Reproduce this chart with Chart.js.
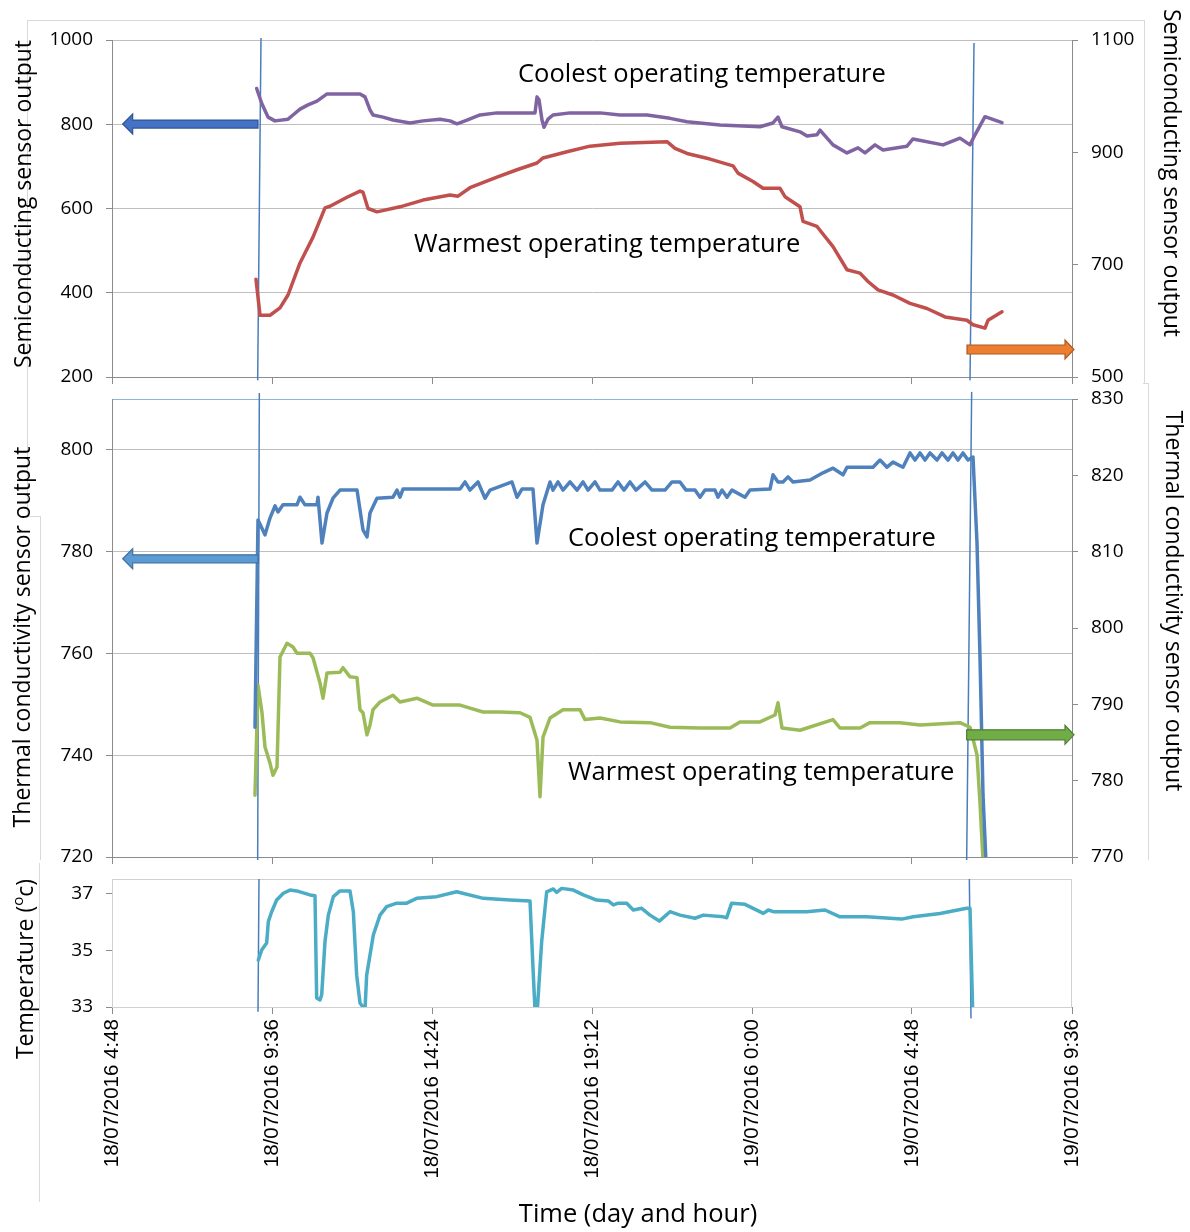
<!DOCTYPE html>
<html>
<head>
<meta charset="utf-8">
<script src="https://cdn.jsdelivr.net/npm/chart.js@4.4.1/dist/chart.umd.min.js"></script>
<style>
  html, body { margin: 0; padding: 0; background: #fff; }
  #wrap { position: relative; width: 1190px; height: 1232px; overflow: hidden; }
  canvas { position: absolute; left: 0; }
  .frame { position: absolute; border: 0 solid #d9d9d9; }
</style>
</head>
<body>
<div id="wrap">
  <div class="frame" style="left:27px;top:20px;width:1116px;height:363px;border-width:1px 1px 0 1px"></div>
  <div class="frame" style="left:27px;top:383px;height:133px;border-left-width:1px"></div>
  <div class="frame" style="left:27px;top:516px;width:13px;border-top-width:1px"></div>
  <div class="frame" style="left:40px;top:516px;height:344px;border-left-width:1px"></div>
  <div class="frame" style="left:1143px;top:383px;width:5px;border-top-width:1px"></div>
  <div class="frame" style="left:1148px;top:383px;height:477px;border-left-width:1px"></div>
  <div class="frame" style="left:39px;top:863px;height:339px;border-left-width:1px"></div>
  <canvas id="c1" width="1190" height="392" style="top:0"></canvas>
  <canvas id="c2" width="1190" height="490" style="top:380px"></canvas>
  <canvas id="c3" width="1190" height="362" style="top:870px"></canvas>
</div>
<script>
// time = hours since 18/07/2016 0:00
const xTicks = [4.8, 9.6, 14.4, 19.2, 24, 28.8, 33.6];

// semiconducting sensor, coolest (left axis) and warmest (right axis)
const semiCool = [[9.14,885],[9.29,850],[9.48,817],[9.69,808],[10.08,812],[10.23,822],[10.44,836],[10.68,846],[10.95,855],[11.25,872],[11.55,872],[12.24,872],[12.39,865],[12.54,834],[12.63,822],[12.93,817],[13.23,810],[13.74,803],[14.13,808],[14.64,812],[14.94,808],[15.15,801],[15.45,810],[15.84,822],[16.35,827],[16.95,827],[17.49,827],[17.55,865],[17.61,858],[17.7,810],[17.76,793],[17.88,812],[18.03,822],[18.54,827],[19.44,827],[20.04,822],[20.85,822],[21.54,814],[22.05,806],[23.04,798],[24.24,794],[24.63,803],[24.78,817],[24.9,794],[25.44,782],[25.65,772],[25.95,775],[26.04,786],[26.43,751],[26.85,732],[27.18,744],[27.39,732],[27.69,751],[27.93,739],[28.65,748],[28.83,765],[29.73,751],[30.24,767],[30.54,751],[30.69,775],[30.99,818],[31.5,804]];
const semiWarm = [[9.12,674],[9.24,610],[9.54,610],[9.84,623],[10.08,646],[10.44,703],[10.83,749],[11.19,801],[11.34,804],[11.85,820],[12.24,831],[12.33,829],[12.48,800],[12.75,794],[13.44,803],[14.13,815],[14.94,824],[15.18,822],[15.54,837],[16.35,856],[16.95,869],[17.55,881],[17.73,890],[18.45,901],[19.14,911],[20.04,916],[21.45,919],[21.69,907],[22.05,898],[22.74,888],[23.43,876],[23.58,863],[24.03,848],[24.33,836],[24.84,836],[24.99,821],[25.44,803],[25.53,777],[25.95,768],[26.43,732],[26.85,691],[27.24,685],[27.48,670],[27.78,655],[28.23,646],[28.74,631],[29.25,622],[29.79,607],[30.45,601],[30.63,593],[30.99,587],[31.08,601],[31.5,616]];

// thermal conductivity sensor, coolest (left axis) and warmest (right axis)
const thermCool = [[9.09,745.5],[9.18,786.2],[9.39,783.3],[9.54,786.6],[9.69,789.0],[9.78,787.8],[9.93,789.2],[10.35,789.2],[10.44,790.7],[10.59,789.2],[10.95,789.2],[10.98,790.7],[11.10,781.7],[11.25,787.6],[11.43,790.5],[11.64,792.1],[12.15,792.1],[12.33,784.3],[12.45,782.9],[12.54,787.6],[12.75,790.5],[13.23,790.7],[13.35,792.1],[13.44,790.7],[13.53,792.3],[15.24,792.3],[15.39,793.7],[15.54,792.1],[15.78,793.7],[15.99,790.5],[16.14,792.1],[16.8,793.7],[16.95,790.7],[17.1,792.3],[17.43,792.3],[17.55,781.7],[17.73,789.2],[17.94,793.7],[18.03,792.1],[18.18,793.7],[18.33,792.1],[18.54,793.7],[18.75,792.1],[18.93,793.7],[19.08,792.1],[19.29,793.7],[19.44,792.1],[19.8,792.1],[19.98,793.7],[20.16,792.1],[20.34,793.7],[20.52,792.1],[20.79,793.7],[21.0,792.1],[21.39,792.1],[21.6,793.7],[21.84,793.7],[22.02,792.1],[22.29,792.1],[22.44,790.7],[22.59,792.1],[22.89,792.1],[22.98,790.7],[23.1,792.1],[23.25,790.7],[23.4,792.1],[23.79,790.7],[23.94,792.1],[24.54,792.3],[24.63,795.1],[24.78,793.7],[24.93,793.7],[25.08,794.7],[25.23,793.7],[25.74,794.1],[26.13,795.5],[26.43,796.4],[26.73,795.1],[26.85,796.6],[27.63,796.6],[27.84,798.0],[28.05,796.6],[28.23,797.6],[28.53,796.6],[28.74,799.4],[28.89,798.0],[29.04,799.4],[29.19,798.0],[29.34,799.4],[29.55,798.0],[29.7,799.4],[29.88,798.0],[30.03,799.4],[30.18,798.0],[30.33,799.4],[30.48,798.0],[30.63,798.6],[30.75,781.7],[30.84,759.3],[30.93,732.2],[31.02,719]];
const thermWarm = [[9.09,778.1],[9.18,792.5],[9.30,788.9],[9.39,784.4],[9.54,782.3],[9.63,780.7],[9.75,781.8],[9.84,796.2],[10.05,798.0],[10.23,797.5],[10.35,796.7],[10.74,796.7],[10.83,796.1],[11.04,792.8],[11.13,790.8],[11.25,794.1],[11.64,794.2],[11.73,794.8],[11.94,793.6],[12.15,793.5],[12.24,789.3],[12.33,788.9],[12.45,786.0],[12.54,787.3],[12.63,789.3],[12.84,790.3],[13.23,791.2],[13.44,790.3],[13.95,790.8],[14.43,789.9],[15.24,789.9],[15.54,789.5],[15.93,789.0],[16.44,789.0],[17.04,788.9],[17.34,788.3],[17.55,785.3],[17.64,777.9],[17.73,785.7],[17.94,788.2],[18.33,789.3],[18.84,789.3],[18.99,788.0],[19.44,788.2],[20.04,787.7],[20.94,787.6],[21.54,787.0],[22.44,786.9],[23.34,786.9],[23.64,787.7],[24.24,787.7],[24.69,788.6],[24.78,790.2],[24.90,786.9],[25.44,786.6],[26.43,788.0],[26.64,786.9],[27.24,786.9],[27.54,787.6],[28.44,787.6],[29.04,787.3],[30.24,787.6],[30.54,787.0],[30.75,783.4],[30.84,777.1],[30.93,769.6]];

// temperature (°C)
const bodyTemp = [[9.19,34.65],[9.29,35.0],[9.44,35.25],[9.49,36.0],[9.59,36.35],[9.74,36.76],[9.94,37.0],[10.14,37.11],[10.34,37.08],[10.74,36.94],[10.89,36.91],[10.94,33.32],[11.04,33.25],[11.09,33.42],[11.19,35.3],[11.29,36.23],[11.44,36.88],[11.64,37.08],[11.94,37.08],[12.04,36.35],[12.14,34.12],[12.24,33.14],[12.39,32.9],[12.44,34.12],[12.64,35.53],[12.84,36.23],[13.04,36.53],[13.34,36.65],[13.64,36.65],[13.94,36.82],[14.54,36.88],[15.14,37.05],[15.94,36.82],[16.74,36.76],[17.34,36.73],[17.44,34.12],[17.49,32.9],[17.56,32.9],[17.69,35.3],[17.84,37.05],[18.04,37.15],[18.14,37.03],[18.29,37.17],[18.64,37.11],[18.94,36.94],[19.34,36.76],[19.69,36.73],[19.84,36.59],[19.99,36.65],[20.24,36.65],[20.44,36.41],[20.69,36.47],[20.94,36.23],[21.22,36.02],[21.54,36.35],[21.84,36.23],[22.29,36.12],[22.54,36.23],[23.14,36.17],[23.24,36.14],[23.39,36.65],[23.79,36.61],[24.34,36.29],[24.49,36.41],[24.64,36.35],[25.64,36.35],[26.19,36.41],[26.64,36.17],[27.44,36.17],[28.49,36.09],[28.84,36.17],[29.64,36.29],[30.44,36.47],[30.54,36.47],[30.62,32.9]];

// start / end marker lines, [time, value] at top and bottom
const semiMarks = [[[9.27,1004.7],[9.17,192]], [[30.66,993],[30.54,192]]];
const thermMarks = [[[9.22,811.2],[9.17,719.4]], [[30.59,811.4],[30.44,719.4]]];
const tempMarks = [[[9.21,37.5],[9.18,32.83]], [[30.52,37.5],[30.57,32.6]]];

// arrows: [tail time, tip time, value]
const semiArrowL = [9.18, 5.12, 800.5];
const semiArrowR = [30.45, 33.66, 549];
const thermArrowL = [9.18, 5.12, 778.6];
const thermArrowR = [30.44, 33.66, 786];

// in-plot labels: [time, value at baseline]
const semiCoolLabel = [16.98, 900.3];
const semiWarmLabel = [13.86, 496.7];
const thermCoolLabel = [18.48, 781.1];
const thermWarmLabel = [18.48, 735.1];

const gridGray = '#bfbfbf';
const axisGray = '#8c8c8c';
const markBlue = '#4a7ebb';
const txtFont = '"Open Sans", sans-serif';

function fmtTime(h) {
  const m = Math.round(h * 60);
  const day = 18 + Math.floor(m / 1440);
  const r = m % 1440;
  return day + '/07/2016 ' + Math.floor(r / 60) + ':' + String(r % 60).padStart(2, '0');
}

function toXY(arr) {
  return arr.map(p => ({ x: p[0], y: p[1] }));
}

function series(label, arr, color, axis) {
  return {
    label, data: toXY(arr), yAxisID: axis, borderColor: color, backgroundColor: color,
    borderWidth: 3.5, pointRadius: 0, tension: 0, borderJoinStyle: 'round', borderCapStyle: 'round'
  };
}

function markLines(marks, axis) {
  return marks.map(m => ({
    label: 'marker', data: toXY(m), yAxisID: axis, borderColor: markBlue,
    borderWidth: 1.5, pointRadius: 0, clip: false
  }));
}

function xScale(showLabels, height) {
  return {
    type: 'linear', min: 4.8, max: 33.6,
    afterBuildTicks: s => { s.ticks = xTicks.map(v => ({ value: v })); },
    afterFit: s => { s.height = height; },
    grid: { drawOnChartArea: false, color: axisGray, tickLength: 7 },
    border: { color: axisGray },
    ticks: {
      display: showLabels, autoSkip: false, maxRotation: 90, minRotation: 90, padding: 5,
      color: '#000', font: { family: '"Liberation Sans", Arial, sans-serif', size: 20.5 },
      callback: v => fmtTime(v)
    }
  };
}

function yScale(pos, min, max, ticks, width, opts) {
  opts = opts || {};
  return {
    type: 'linear', position: pos, min, max,
    afterBuildTicks: sc => { sc.ticks = ticks.map(v => ({ value: v })); },
    // fixed axis width, and no extra room for the end labels
    afterFit: sc => { sc.width = width; sc.paddingTop = 0; sc.paddingBottom = 0; },
    grid: opts.grid || { drawOnChartArea: pos === 'left', color: gridGray, tickColor: axisGray, tickLength: 6 },
    border: { color: axisGray },
    ticks: {
      padding: 13, color: '#000', font: { family: txtFont, size: 19 },
      callback: opts.label || (v => String(v))
    }
  };
}

// draws arrows, in-plot labels and axis titles
function notes(cfg) {
  return {
    id: 'notes',
    afterDatasetsDraw(chart) {
      const ctx = chart.ctx, xs = chart.scales.x;
      ctx.save();
      (cfg.arrows || []).forEach(a => {
        const y = chart.scales[a.axis].getPixelForValue(a.at[2]);
        const x0 = xs.getPixelForValue(a.at[0]), x1 = xs.getPixelForValue(a.at[1]);
        const d = Math.sign(x1 - x0), hb = x1 - d * a.head;
        ctx.beginPath();
        ctx.moveTo(x0, y - a.shaft);
        ctx.lineTo(hb, y - a.shaft);
        ctx.lineTo(hb, y - a.wing);
        ctx.lineTo(x1, y);
        ctx.lineTo(hb, y + a.wing);
        ctx.lineTo(hb, y + a.shaft);
        ctx.lineTo(x0, y + a.shaft);
        ctx.closePath();
        ctx.fillStyle = a.fill;
        ctx.fill();
        ctx.strokeStyle = a.stroke;
        ctx.lineWidth = 1.2;
        ctx.stroke();
      });
      ctx.fillStyle = '#000';
      ctx.textBaseline = 'alphabetic';
      ctx.textAlign = 'left';
      ctx.font = '25.5px ' + txtFont;
      (cfg.labels || []).forEach(l => {
        ctx.fillText(l.text, xs.getPixelForValue(l.at[0]), chart.scales[l.axis].getPixelForValue(l.at[1]));
      });
      ctx.textBaseline = 'middle';
      (cfg.titles || []).forEach(t => {
        ctx.save();
        ctx.translate(t.x, t.y);
        ctx.rotate(t.rot * Math.PI / 180);
        const parts = t.parts || [[t.text, 23, 0]];
        let total = 0;
        parts.forEach(p => { ctx.font = p[1] + 'px ' + txtFont; total += ctx.measureText(p[0]).width; });
        let cx = -total / 2;
        parts.forEach(p => {
          ctx.font = p[1] + 'px ' + txtFont;
          ctx.fillText(p[0], cx, p[2]);
          cx += ctx.measureText(p[0]).width;
        });
        ctx.restore();
      });
      ctx.restore();
    }
  };
}

const plotFrame = {
  id: 'plotFrame',
  beforeDatasetsDraw(chart) {
    const a = chart.chartArea, ctx = chart.ctx;
    ctx.save();
    ctx.strokeStyle = '#d0d0d0';
    ctx.lineWidth = 1;
    ctx.strokeRect(a.left + 0.5, a.top + 0.5, a.right - a.left - 1, a.bottom - a.top);
    ctx.restore();
  }
};

const common = {
  responsive: false, animation: false, events: [],
  plugins: { legend: { display: false }, tooltip: { enabled: false } }
};

// top panel: semiconducting sensor
new Chart(document.getElementById('c1'), {
  type: 'line',
  data: {
    datasets: [
      series('Coolest operating temperature', semiCool, '#8064a2', 'yL'),
      series('Warmest operating temperature', semiWarm, '#c0504d', 'yR'),
      ...markLines(semiMarks, 'yL')
    ]
  },
  options: Object.assign({}, common, {
    layout: { padding: { top: 40, left: 0, right: 0, bottom: 0 } },
    scales: {
      x: xScale(false, 15),
      yL: yScale('left', 200, 1000, [200, 400, 600, 800, 1000], 112),
      yR: yScale('right', 500, 1100, [500, 700, 900, 1100], 118)
    }
  }),
  plugins: [notes({
    arrows: [
      { at: semiArrowL, axis: 'yL', shaft: 4, wing: 10, head: 10, fill: '#4472c4', stroke: '#2f5597' },
      { at: semiArrowR, axis: 'yR', shaft: 4.5, wing: 9.5, head: 9, fill: '#ed7d31', stroke: '#ae5a21' }
    ],
    labels: [
      { text: 'Coolest operating temperature', at: semiCoolLabel, axis: 'yL' },
      { text: 'Warmest operating temperature', at: semiWarmLabel, axis: 'yL' }
    ],
    titles: [
      { text: 'Semiconducting sensor output', x: 24, y: 204, rot: -90 },
      { text: 'Semiconducting sensor output', x: 1171, y: 173, rot: 90 }
    ]
  })]
});

// middle panel: thermal conductivity sensor
new Chart(document.getElementById('c2'), {
  type: 'line',
  data: {
    datasets: [
      series('Coolest operating temperature', thermCool, '#4f81bd', 'yL'),
      series('Warmest operating temperature', thermWarm, '#9bbb59', 'yR'),
      ...markLines(thermMarks, 'yL')
    ]
  },
  options: Object.assign({}, common, {
    layout: { padding: { top: 19, left: 0, right: 0, bottom: 0 } },
    scales: {
      x: xScale(false, 13),
      // 810 is only the top edge of the plot: blue border line, no label
      yL: yScale('left', 720, 810, [720, 740, 760, 780, 800, 810], 112, {
        grid: {
          color: c => c.tick && c.tick.value === 810 ? '#8eb4e3' : gridGray,
          tickColor: c => c.tick && c.tick.value === 810 ? 'rgba(0,0,0,0)' : axisGray,
          tickLength: 6
        },
        label: v => (v === 810 ? '' : String(v))
      }),
      yR: yScale('right', 770, 830, [770, 780, 790, 800, 810, 820, 830], 118)
    }
  }),
  plugins: [notes({
    arrows: [
      { at: thermArrowL, axis: 'yL', shaft: 4, wing: 10, head: 10, fill: '#5b9bd5', stroke: '#41719c' },
      { at: thermArrowR, axis: 'yR', shaft: 5, wing: 9.5, head: 9, fill: '#70ad47', stroke: '#507e32' }
    ],
    labels: [
      { text: 'Coolest operating temperature', at: thermCoolLabel, axis: 'yL' },
      { text: 'Warmest operating temperature', at: thermWarmLabel, axis: 'yL' }
    ],
    titles: [
      { text: 'Thermal conductivity sensor output', x: 23, y: 257, rot: -90 },
      { text: 'Thermal conductivity sensor output', x: 1173, y: 221, rot: 90 }
    ]
  })]
});

// bottom panel: temperature
new Chart(document.getElementById('c3'), {
  type: 'line',
  data: {
    datasets: [
      series('Temperature', bodyTemp, '#4bacc6', 'y'),
      ...markLines(tempMarks, 'y')
    ]
  },
  options: Object.assign({}, common, {
    layout: { padding: { top: 9, left: 0, right: 118, bottom: 0 } },
    scales: {
      x: xScale(true, 225),
      y: yScale('left', 33, 37.5, [33, 35, 37], 112, {
        grid: { drawOnChartArea: false, color: axisGray, tickLength: 6 }
      })
    }
  }),
  plugins: [plotFrame, notes({
    titles: [
      { x: 26, y: 99, rot: -90, parts: [['Temperature (', 23, 0], ['o', 15, -7], ['c)', 23, 0]] },
      { x: 638, y: 345, rot: 0, parts: [['Time (day and hour)', 25.5, 0]] }
    ]
  })]
});
</script>
</body>
</html>
